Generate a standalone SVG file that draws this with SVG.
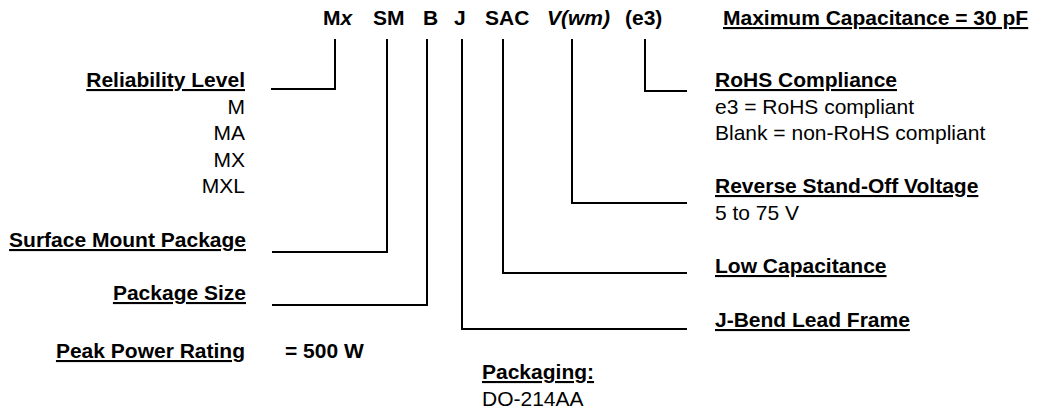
<svg xmlns="http://www.w3.org/2000/svg" width="1042" height="413" viewBox="0 0 1042 413">
<style>
text{font-family:"Liberation Sans",Arial,sans-serif;font-size:21px;fill:#000}
.b{font-weight:bold}
.u{text-decoration:underline}
.i{font-style:italic}
.e{text-anchor:end}
.ln{fill:none;stroke:#000;stroke-width:2;stroke-linejoin:miter}
</style>
<rect width="1042" height="413" fill="#fff"/>
<g id="part-number">
<text class="b" x="323" y="25">M<tspan class="i">x</tspan></text>
<text class="b" x="373" y="25">SM</text>
<text class="b" x="423" y="25">B</text>
<text class="b" x="454" y="25">J</text>
<text class="b" x="485" y="25">SAC</text>
<text class="b i" x="547" y="25">V(wm)</text>
<text class="b" x="625" y="25">(e3)</text>
</g>
<g id="max-capacitance"><text class="b u" x="723" y="25">Maximum Capacitance = 30 pF</text></g>
<g id="reliability">
<text class="b u e" x="245" y="87">Reliability Level</text>
<text class="e" x="245" y="114">M</text>
<text class="e" x="245" y="140">MA</text>
<text class="e" x="245" y="166.5">MX</text>
<text class="e" x="245" y="193">MXL</text>
</g>
<g id="surface-mount"><text class="b u e" x="246" y="247">Surface Mount Package</text></g>
<g id="package-size"><text class="b u e" x="246" y="300">Package Size</text></g>
<g id="peak-power">
<text class="b u e" x="245" y="358">Peak Power Rating</text>
<text class="b" x="285" y="358">= 500 W</text>
</g>
<g id="rohs">
<text class="b u" x="715" y="87">RoHS Compliance</text>
<text x="715" y="113.5">e3 = RoHS compliant</text>
<text x="715" y="140">Blank = non-RoHS compliant</text>
</g>
<g id="reverse-voltage">
<text class="b u" x="715" y="193">Reverse Stand-Off Voltage</text>
<text x="715" y="220">5 to 75 V</text>
</g>
<g id="low-capacitance"><text class="b u" x="715" y="273">Low Capacitance</text></g>
<g id="j-bend"><text class="b u" x="715" y="327">J-Bend Lead Frame</text></g>
<g id="packaging">
<text class="b u" x="482" y="379">Packaging:</text>
<text x="482" y="406">DO-214AA</text>
</g>
<g id="connectors">
<path class="ln" d="M271,89 H335 V39"/>
<path class="ln" d="M272,252 H387 V39"/>
<path class="ln" d="M272,305 H427 V39"/>
<path class="ln" d="M462,39 V329 H687"/>
<path class="ln" d="M503,39 V273 H687"/>
<path class="ln" d="M572,39 V203 H687"/>
<path class="ln" d="M645,39 V91 H687"/>
</g>
</svg>
